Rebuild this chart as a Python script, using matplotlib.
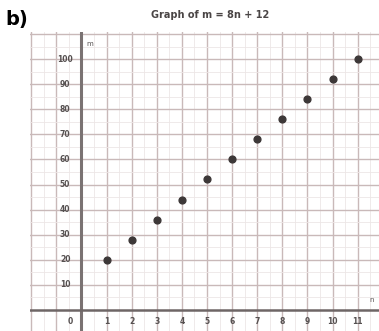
import matplotlib.pyplot as plt
import numpy as np

# data: m = 8n + 12
n_vals = [1, 2, 3, 4, 5, 6, 7, 8, 9, 10, 11]
m_vals = [20, 28, 36, 44, 52, 60, 68, 76, 84, 92, 100]
x_ticks = [1, 2, 3, 4, 5, 6, 7, 8, 9, 10, 11]
y_ticks = [10, 20, 30, 40, 50, 60, 70, 80, 90, 100]

fig = plt.figure(figsize=(3.79, 3.31), dpi=100)
ax = fig.add_axes([30 / 379, 0, 349 / 379, 299 / 331])

ax.set_xlim(-2.05, 11.85)
ax.set_ylim(-8.4, 110.8)

# grid lines
grid_col = '#c9b9b9'
minor_col = '#ede6e6'
for x in np.arange(-2, 12, 0.5):
    if x == 0:
        continue
    major = float(x).is_integer()
    ax.axvline(x, color=grid_col if major else minor_col, lw=1.0 if major else 0.6, zorder=0)
for y in np.arange(5, 115, 5):
    major = y % 10 == 0
    ax.axhline(y, color=grid_col if major else minor_col, lw=1.0 if major else 0.6, zorder=0)

# axes
ax.axvline(0, color='#7a7272', lw=2.2, zorder=1)
ax.axhline(0, color='#6e6666', lw=1.8, zorder=1)

ax.scatter(n_vals, m_vals, s=24, color='#3d3838', zorder=3)

# tick labels drawn inside the grid
lab_col = '#555050'
for t in y_ticks:
    ax.text(-0.65, t, str(t), ha='center', va='center', fontsize=5.5, color=lab_col, fontweight='bold')
for t in x_ticks:
    ax.text(t, -4.8, str(t), ha='center', va='center', fontsize=5.5, color=lab_col, fontweight='bold')
ax.text(-0.46, -4.8, '0', ha='center', va='center', fontsize=5.5, color=lab_col, fontweight='bold')
ax.text(0.34, 106, 'm', ha='center', va='center', fontsize=5, color=lab_col)
ax.text(11.55, 4, 'n', ha='center', va='center', fontsize=5, color=lab_col)

for s in ax.spines.values():
    s.set_visible(False)
ax.set_xticks([])
ax.set_yticks([])

fig.text(210 / 379, 1 - 15 / 331, 'Graph of m = 8n + 12', ha='center', va='center',
         fontsize=7, fontweight='bold', color='#4a4545')
fig.text(5 / 379, 1 - 20 / 331, 'b)', ha='left', va='center', fontsize=14, fontweight='bold')

fig.savefig('out.png', dpi=100)
